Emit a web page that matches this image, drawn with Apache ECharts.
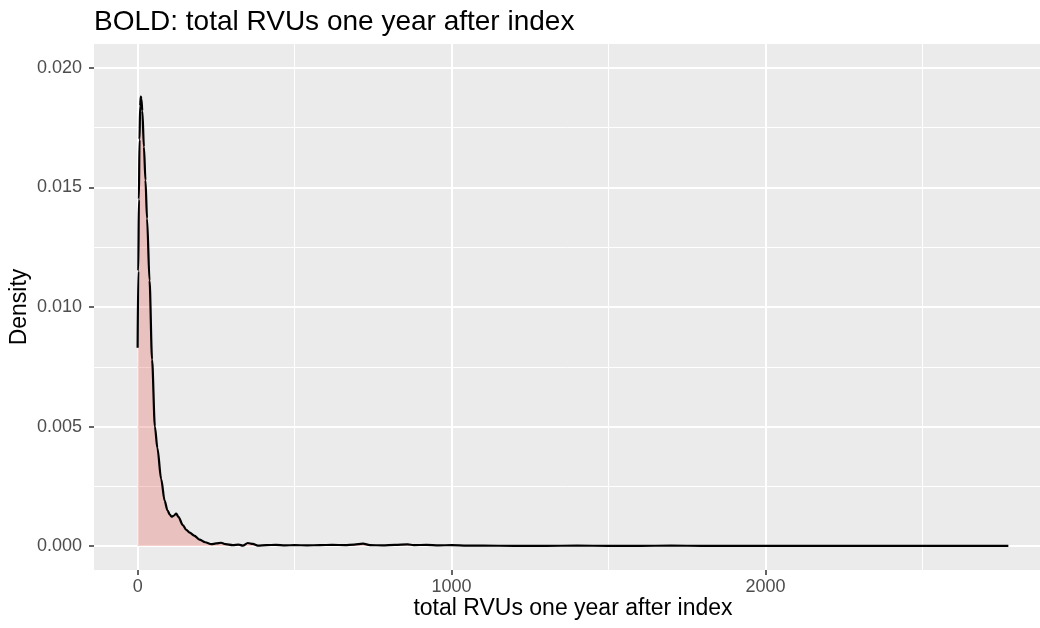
<!DOCTYPE html>
<html>
<head>
<meta charset="utf-8">
<script src="https://cdn.jsdelivr.net/npm/echarts@6/dist/echarts.min.js"></script>
<style>
  html, body { margin: 0; padding: 0; background: #fff; }
  #chart { width: 1040px; height: 628px; }
</style>
</head>
<body>
<div id="chart"></div>
<script>
// density estimate
var rvu = [0, 2, 4, 6, 8, 10, 12, 15, 20, 25,
  30, 38, 46, 55, 63, 75, 86, 95, 102, 108,
  115, 123, 130, 144, 155, 166, 180, 197, 215, 235,
  250, 266, 280, 303, 322, 335, 351, 367, 383, 410,
  440, 470, 500, 540, 580, 620, 660, 690, 718, 740,
  780, 820, 860, 880, 920, 960, 1000, 1050, 1100, 1200,
  1300, 1400, 1500, 1600, 1700, 1800, 1900, 2000, 2100, 2200,
  2400, 2600, 2774];
var density = [0.0083, 0.0115, 0.0145, 0.0170, 0.0184, 0.0188, 0.0187, 0.0182, 0.0167, 0.0153,
  0.0137, 0.0111, 0.0078, 0.0050, 0.0041, 0.0028, 0.0019, 0.0015, 0.00133, 0.00123,
  0.00127, 0.00136, 0.00122, 0.00088, 0.00068, 0.00056, 0.00044, 0.00027, 0.00016, 0.00008,
  0.00011, 0.00014, 0.00008, 0.00004, 0.00006, 0.00002, 0.00013, 0.00009, 0.00002, 0.00004,
  0.00005, 0.00003, 0.00004, 0.00003, 0.00004, 0.00005, 0.00004, 0.00006, 0.0001, 0.00004,
  0.00003, 0.00005, 0.00007, 0.00004, 0.00005, 0.00003, 0.00004, 0.00002, 0.00002, 0.00001,
  0.00001, 0.00002, 0.00001, 0.00001, 0.00002, 0.00001, 0.00001, 0.00001, 0.00001, 0.00001,
  0.00001, 0.00001, 0.00001];

var xTicks = [0, 1000, 2000];
var xMinor = [500, 1500, 2500];
var yTicks = [0, 0.005, 0.010, 0.015, 0.020];
var yMinor = [0.0025, 0.0075, 0.0125, 0.0175];

var font = 'Liberation Sans, Arial, Helvetica, sans-serif';
var xMin = -139, xMax = 2913;
var yMin = -0.001, yMax = 0.021;

var points = rvu.map(function (x, i) { return [x, density[i]]; });

function minorAxis(ticks, min, max) {
  return {
    type: 'value', min: min, max: max,
    axisLine: { show: false, onZero: false },
    axisTick: { show: false, customValues: ticks },
    axisLabel: { show: false },
    splitLine: { show: true, lineStyle: { color: '#ffffff', width: 1 } }
  };
}

var chart = echarts.init(document.getElementById('chart'));
chart.setOption({
  animation: false,
  backgroundColor: '#ffffff',
  title: {
    text: 'BOLD: total RVUs one year after index',
    left: 94, top: 8, padding: 0,
    textStyle: { fontFamily: font, fontSize: 28, fontWeight: 'normal', color: '#000' }
  },
  grid: {
    left: 94, right: -12, top: 44, bottom: 58,
    outerBoundsMode: 'none',
    show: true, backgroundColor: '#EBEBEB', borderWidth: 0
  },
  xAxis: [{
    type: 'value', min: xMin, max: xMax,
    name: 'total RVUs one year after index',
    nameLocation: 'middle', nameGap: 27, nameMoveOverlap: false,
    nameTextStyle: { fontFamily: font, fontSize: 23, color: '#000' },
    axisLine: { show: false, onZero: false },
    axisTick: { show: true, length: 5, customValues: xTicks, lineStyle: { color: '#333', width: 1.5 } },
    axisLabel: {
      customValues: xTicks, margin: 8, fontFamily: font, fontSize: 18, color: '#4D4D4D',
      formatter: function (v) { return String(v); }
    },
    splitLine: { show: true, lineStyle: { color: '#ffffff', width: 2 } }
  }, minorAxis(xMinor, xMin, xMax)],
  yAxis: [{
    type: 'value', min: yMin, max: yMax,
    name: 'Density',
    nameLocation: 'middle', nameRotate: 90, nameGap: 63, nameMoveOverlap: false,
    nameTextStyle: { fontFamily: font, fontSize: 23, color: '#000' },
    axisLine: { show: false, onZero: false },
    axisTick: { show: true, length: 5, customValues: yTicks, lineStyle: { color: '#333', width: 1.5 } },
    axisLabel: {
      customValues: yTicks, margin: 12, fontFamily: font, fontSize: 18, color: '#4D4D4D',
      formatter: function (v) { return v.toFixed(3); }
    },
    splitLine: { show: true, lineStyle: { color: '#ffffff', width: 2 } }
  }, minorAxis(yMinor, yMin, yMax)],
  series: [{
    type: 'line',
    data: points,
    showSymbol: false,
    smooth: 0.3,
    smoothMonotone: 'x',
    lineStyle: { color: '#000', width: 2.2 },
    areaStyle: { color: 'rgba(230,105,95,0.45)' },
    z: 3
  }]
});
</script>
</body>
</html>
